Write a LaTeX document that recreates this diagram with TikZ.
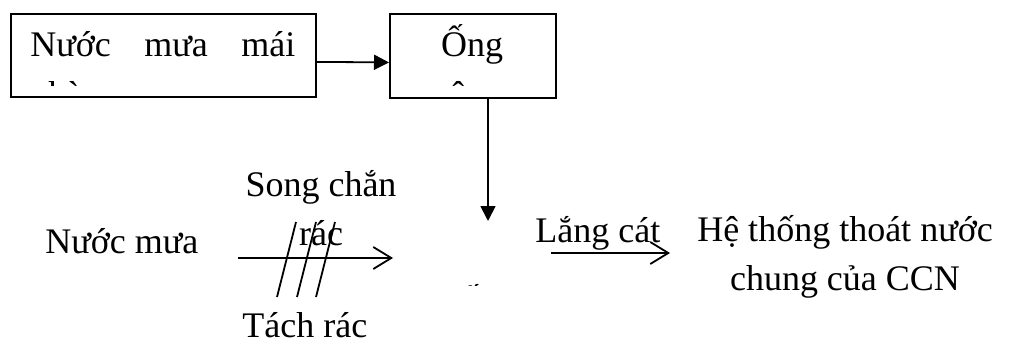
\documentclass[tikz,border=0pt]{standalone}
\usepackage{fontspec}
\setmainfont{Liberation Serif}
\usetikzlibrary{arrows.meta}
\begin{document}
\begin{tikzpicture}[x=0.5pt,y=-0.5pt,
  font=\fontsize{18}{24.5}\selectfont,
  ln/.style={line width=0.9pt},
  box/.style={draw, ln, inner sep=0pt, anchor=north west},
  txt/.style={inner sep=0pt},
  filled/.style={ln, -{Triangle[length=7.5pt,width=7.5pt]}},
  openarr/.style={ln, -{Straight Barb[length=9pt,width=11pt,line width=0.9pt]}}]
\useasboundingbox (0,0) rectangle (1011,342);
% top boxes
\node[box, minimum width=152.5pt, minimum height=41.5pt] (b1) at (10,13) {};
\node[box, minimum width=83pt, minimum height=42pt] (b2) at (389,13) {};
\node[txt, anchor=base west] (t1) at (30,57) {\makebox[132.5pt][s]{Nước mưa mái}};
\node[txt, anchor=base] (t2) at (472,57) {Ống};
\begin{scope}
  \clip (10,13) rectangle (315,86);
  \node[txt, anchor=base west] (t1b) at (30,106) {nhà};
\end{scope}
\begin{scope}
  \clip (389,13) rectangle (555,86);
  \node[txt, anchor=base] (t2b) at (472,106) {âm};
\end{scope}
\begin{scope}
  \clip (430,270) rectangle (540,285.5);
  \node[txt, anchor=base west] (hg) at (435,310.5) {Hố ga};
\end{scope}
\draw[filled] ([yshift=-3.25pt]b1.east) -- ([yshift=-3.25pt]b2.west);
\coordinate (vend) at (488,221);
\draw[filled] (b2.south -| vend) -- (vend);
% bottom row
\node[txt, anchor=base west] (nm) at (45,253) {Nước mưa};
\coordinate (a1s) at (238,258);
\coordinate (a1e) at (393,258);
\draw[openarr] (a1s) -- (a1e);
\node[txt, anchor=base, align=center] (sc) at (321,245) {Song chắn\\rác};
\draw[ln] (277,297) -- (296,222);
\draw[ln] (297,297) -- (316,222);
\draw[ln] (316,297) -- (335,222);
\node[txt, anchor=base west] (tr) at (242,337) {Tách rác};
\node[txt, anchor=base west] (lc) at (535,242) {Lắng cát};
\coordinate (a2s) at (551,253);
\coordinate (a2e) at (670,253);
\draw[openarr] (a2s) -- (a2e);
\node[txt, anchor=base, align=center] (ht) at (845,290) {Hệ thống thoát nước\\chung của CCN};
\end{tikzpicture}
\end{document}
